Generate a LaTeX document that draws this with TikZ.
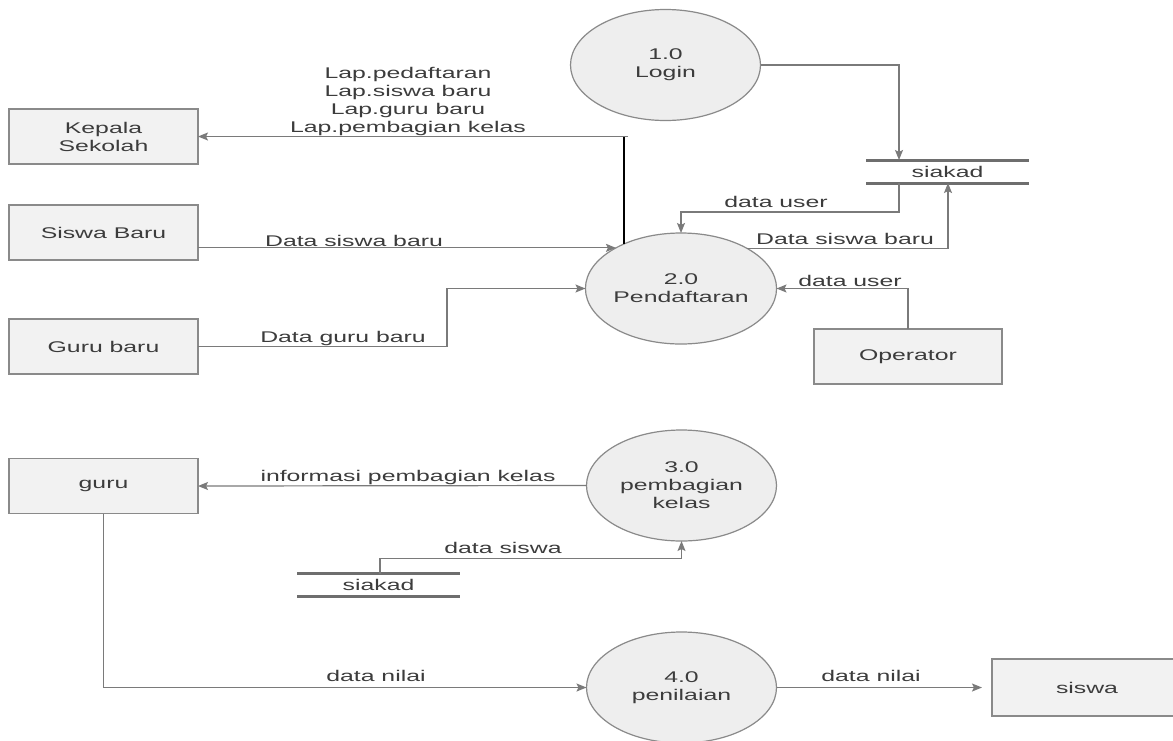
\documentclass[tikz,border=0pt]{standalone}
\usepackage{fontspec}
\setmainfont{Liberation Sans}[FakeStretch=1.6]
\usetikzlibrary{shapes.geometric,arrows.meta,calc}
\definecolor{linegray}{HTML}{7A7A7A}
\definecolor{bordergray}{HTML}{8A8A8A}
\definecolor{boxfill}{HTML}{F2F2F2}
\definecolor{ellfill}{HTML}{EEEEEE}
\definecolor{txtgray}{HTML}{3C3C3C}
\definecolor{storegray}{HTML}{6E6E6E}
\tikzset{
  entity/.style={draw=bordergray, line width=1.4pt, fill=boxfill, rectangle,
    minimum width=189pt, minimum height=55pt, inner sep=0pt, outer sep=0pt,
    align=center, text=txtgray},
  proc/.style={draw=bordergray, line width=1.2pt, fill=ellfill, ellipse,
    minimum width=190pt, minimum height=111pt, inner sep=0pt, outer sep=0pt,
    align=center, text=txtgray},
  store/.style={rectangle, minimum width=163pt, minimum height=23pt,
    inner sep=0pt, outer sep=0pt, text=txtgray},
  storeline/.style={draw=storegray, line width=3pt},
  flow/.style={draw=linegray, line width=1.2pt,
    -{Stealth[length=10pt,width=8pt,inset=2pt]}},
  plainline/.style={draw=black, line width=2pt},
  lbl/.style={text=txtgray, inner sep=0pt, align=center}
}
\begin{document}
\begin{tikzpicture}[x=1pt,y=-1pt,font=\fontsize{15.5}{18}\selectfont]
\useasboundingbox (0,0) rectangle (1173,740);
\clip (0,0) rectangle (1173,740);
\fill[white] (0,0) rectangle (1173,740);

% processes
\node[proc] (login) at (665.5,65) {1.0\\Login};
\node[proc] (pend) at (681,288.5) {2.0\\Pendaftaran};
\node[proc] (pemb) at (681.5,485.5) {3.0\\pembagian\\kelas};
\node[proc] (nilai) at (681.5,687.5) {4.0\\penilaian};

% entities
\node[entity] (kepala) at (103.5,136.5) {Kepala\\Sekolah};
\node[entity] (sb) at (103.5,232.5) {Siswa Baru};
\node[entity] (gb) at (103.5,346.5) {Guru baru};
\node[entity] (guru) at (103.5,486) {guru};
\node[entity, minimum width=188pt] (op) at (908,356.5) {Operator};
\node[entity, minimum width=190pt, minimum height=57pt] (siswa) at (1087,687.5) {siswa};

% data stores
\node[store] (s1) at (947.5,171.5) {siakad};
\draw[storeline] (s1.north west) -- (s1.north east) (s1.south west) -- (s1.south east);
\node[store] (s2) at (378.5,585) {siakad};
\draw[storeline] (s2.north west) -- (s2.north east) (s2.south west) -- (s2.south east);

% flows
\draw[flow] (login.east) -| ([xshift=33pt]s1.north west);
\draw[flow] ([xshift=33pt]s1.south west) |- ($(pend.north)+(0,-21)$) -- (pend.north);
\draw[flow] (pend.31.6) -| ([xshift=82pt]s1.south west);
\draw[flow] (op.north) |- (pend.east);
\draw[flow] (sb.east |- pend.148.4) -- (pend.148.4);
\draw[flow] (gb.east) -- ++(249,0) |- (pend.west);
\draw[plainline] (pend.142.3) -- (pend.142.3 |- kepala.east);
\draw[flow] ([xshift=4pt]pend.142.3 |- kepala.east) -- (kepala.east);
\draw[flow] (pemb.west) -- (guru.east);
\draw[flow] ([xshift=83pt]s2.north west) -- ++(0,-15) -| (pemb.south);
\draw[flow] (guru.south) |- (nilai.west);
\draw[flow, shorten >=10pt] (nilai.east) -- (siswa.west);

% labels
\node[lbl] (l1) at (408,101) {Lap.pedaftaran\\Lap.siswa baru\\Lap.guru baru\\Lap.pembagian kelas};
\node[lbl] (l2) at (354,241) {Data siswa baru};
\node[lbl] (l3) at (343,338) {Data guru baru};
\node[lbl] (l4) at (776,202) {data user};
\node[lbl] (l5) at (845,239) {Data siswa baru};
\node[lbl] (l6) at (850,281) {data user};
\node[lbl] (l7) at (408,477) {informasi pembagian kelas};
\node[lbl] (l8) at (503,548) {data siswa};
\node[lbl] (l9) at (376,676) {data nilai};
\node[lbl] (l10) at (871,676) {data nilai};
\end{tikzpicture}
\end{document}
